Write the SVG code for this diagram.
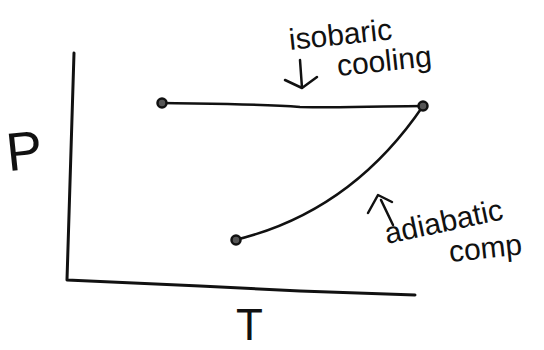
<svg xmlns="http://www.w3.org/2000/svg" width="544" height="350" viewBox="0 0 544 350">
<style>
.ink{fill:none;stroke:#111;stroke-linecap:round;stroke-linejoin:round}
.lbl{font-family:"Liberation Sans",Arial,sans-serif;fill:#111}
.dot{fill:#555;stroke:#111;stroke-width:2.5}
</style>
<rect width="544" height="350" fill="#fff"/>
<g id="axes">
<path class="ink" stroke-width="3" d="M74,53 L67,280 L200,286 L300,291 L415,295"/>
</g>
<g id="connectors">
<path id="isobaric" class="ink" stroke-width="2.5" d="M162,103 C220,104 260,104 300,107 C350,108 390,106 423,106"/>
<path id="adiabatic" class="ink" stroke-width="2.5" d="M235,240 Q351,212 423,106"/>
<path class="ink" stroke-width="2.5" d="M300,60 L302,88 M285,80 L302,88 L317,77"/>
<path class="ink" stroke-width="2.5" d="M368,213 L378,195 L392,202 M381,200 L393,225"/>
</g>
<g id="state1"><circle class="dot" cx="162" cy="103" r="4.5"/></g>
<g id="state2"><circle class="dot" cx="423" cy="106" r="4.5"/></g>
<g id="state3"><circle class="dot" cx="236" cy="240" r="4.5"/></g>
<g id="labels">
<text class="lbl" x="6" y="170" font-size="54" transform="rotate(-6 20 150)">P</text>
<text class="lbl" x="236" y="340" font-size="44">T</text>
<text class="lbl" x="290" y="50" font-size="30" transform="rotate(-6 290 50)">isobaric</text>
<text class="lbl" x="338" y="76" font-size="30" transform="rotate(-6 338 76)">cooling</text>
<text class="lbl" x="387" y="244" font-size="30" transform="rotate(-12 387 244)">adiabatic</text>
<text class="lbl" x="450" y="262" font-size="30" transform="rotate(-6 450 262)">comp</text>
</g>
</svg>
